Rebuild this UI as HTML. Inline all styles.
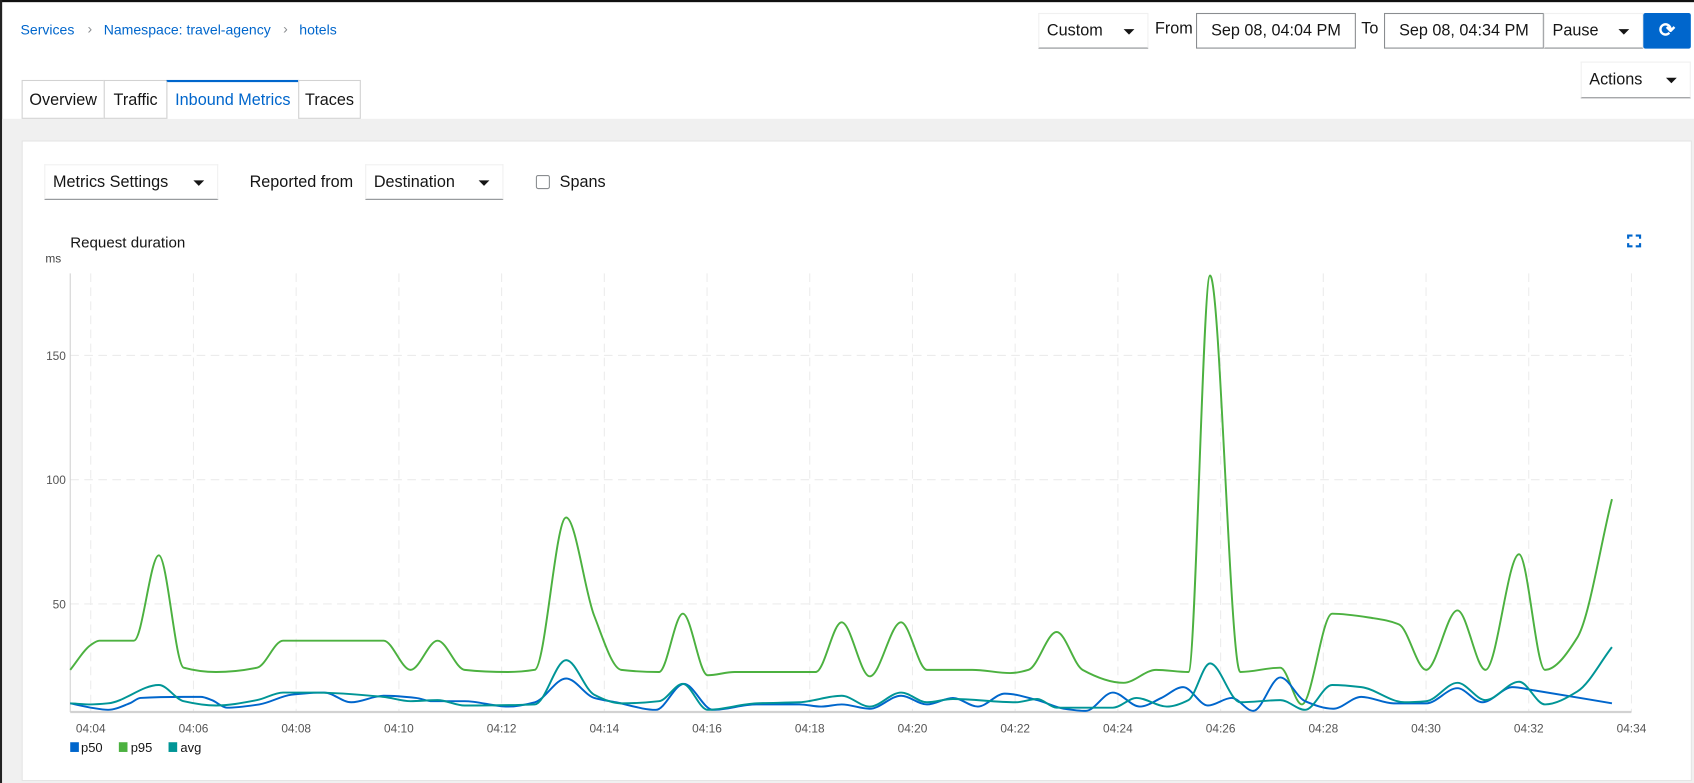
<!DOCTYPE html>
<html><head><meta charset="utf-8"><style>
html,body{margin:0;padding:0;width:1694px;height:783px;overflow:hidden;background:#fff;font-family:"Liberation Sans",sans-serif;}
#root{position:absolute;left:0;top:0;width:1568px;height:725px;transform:scale(1.0804);transform-origin:0 0;background:#fff;}
.a{position:absolute;}
.blue{color:#0066cc}
.dd{position:absolute;background:#fff;border:1px solid #f0f0f0;border-bottom:1px solid #8a8d90;box-sizing:border-box;font-size:15px;color:#151515;padding-left:7px;line-height:31px}
.dd:after{content:"";position:absolute;right:12px;top:14px;border-left:5px solid transparent;border-right:5px solid transparent;border-top:5px solid #151515}
.inp{position:absolute;border:1px solid #8a8d90;box-sizing:border-box;font-size:15px;color:#151515;text-align:center;line-height:31px;background:#fff}
.tab{position:absolute;top:74px;height:36px;border:1px solid #d2d2d2;box-sizing:border-box;font-size:15px;line-height:35px;text-align:center;color:#151515;background:#fff}
</style></head><body><div id="root">
<div class="a" style="left:0;top:0;width:1568px;height:2px;background:#111"></div>
<div class="a" style="left:0;top:0;width:2px;height:725px;background:#222"></div>
<div class="a" style="left:2px;top:110px;width:1566px;height:615px;background:#f0f0f0"></div>
<div class="a" style="left:20px;top:130px;width:1546px;height:593px;background:#fff;border:1px solid #e4e4e4;box-sizing:border-box"></div>

<div class="a blue" style="left:19px;top:20px;font-size:13px">Services</div>
<div class="a" style="left:81px;top:19px;font-size:13px;color:#8a8d90">›</div>
<div class="a blue" style="left:96px;top:20px;font-size:13px">Namespace: travel-agency</div>
<div class="a" style="left:262px;top:19px;font-size:13px;color:#8a8d90">›</div>
<div class="a blue" style="left:277px;top:20px;font-size:13px">hotels</div>

<div class="tab" style="left:20px;width:77px">Overview</div>
<div class="tab" style="left:96px;width:59px">Traffic</div>
<div class="tab" style="left:154px;width:123px;color:#0066cc;border-top:2px solid #0066cc;border-bottom:none;line-height:33px">Inbound Metrics</div>
<div class="tab" style="left:276px;width:58px">Traces</div>

<div class="dd" style="left:961px;top:12px;width:102px;height:33px">Custom</div>
<div class="a" style="left:1069px;top:18px;font-size:15px;color:#151515">From</div>
<div class="inp" style="left:1107px;top:12px;width:148px;height:33px">Sep 08, 04:04 PM</div>
<div class="a" style="left:1260px;top:18px;font-size:15px;color:#151515">To</div>
<div class="inp" style="left:1281px;top:12px;width:148px;height:33px">Sep 08, 04:34 PM</div>
<div class="dd" style="left:1429px;top:12px;width:92px;height:33px">Pause</div>
<div class="a" style="left:1521px;top:12px;width:44px;height:33px;background:#0066cc;border-radius:2px;color:#fff;font-size:18px;text-align:center;line-height:33px;font-weight:bold">⟳</div>
<div class="dd" style="left:1463px;top:57px;width:102px;height:34px;line-height:32px">Actions</div>

<div class="dd" style="left:41px;top:152px;width:161px;height:33px">Metrics Settings</div>
<div class="a" style="left:231px;top:160px;font-size:15px;color:#151515">Reported from</div>
<div class="dd" style="left:338px;top:152px;width:128px;height:33px">Destination</div>
<div class="a" style="left:496px;top:162px;width:11px;height:11px;border:1px solid #8a8d90;border-radius:2px"></div>
<div class="a" style="left:518px;top:160px;font-size:15px;color:#151515">Spans</div>

<svg class="a" style="left:0;top:0" width="1568" height="725" viewBox="0 0 1568 725" font-family="Liberation Sans, sans-serif">
<text x="65" y="229" font-size="14" fill="#151515">Request duration</text>
<text x="42" y="243" font-size="11" fill="#444">ms</text>
<g stroke="#0066cc" stroke-width="2" fill="none"><path d="M1507 221v-3h4M1514 218h4v3M1507 225v3h4M1518 225v3h-4"/></g>
<g stroke="#ececec" stroke-width="1" stroke-dasharray="8,5" id="grid"></g>
<line x1="65" y1="253" x2="65" y2="659" stroke="#d2d2d2"/>
<line x1="65" y1="659" x2="1510" y2="659" stroke="#d2d2d2" stroke-width="2"/>
<g font-size="11" fill="#555" text-anchor="end"><text x="61" y="333">150</text><text x="61" y="448">100</text><text x="61" y="563">50</text></g>
<g font-size="11" fill="#555" text-anchor="middle" id="xl"></g>
<g id="series" fill="none" stroke-width="1.8"></g>
<rect x="65" y="687" width="8" height="9" fill="#0066cc"/><text x="75" y="696" font-size="12" fill="#151515">p50</text>
<rect x="110" y="687" width="8" height="9" fill="#4cb140"/><text x="121" y="696" font-size="12" fill="#151515">p95</text>
<rect x="156" y="687" width="8" height="9" fill="#009596"/><text x="167" y="696" font-size="12" fill="#151515">avg</text>
</svg>
</div>
<script>
var NS="http://www.w3.org/2000/svg";
var g=document.getElementById('grid'),xl=document.getElementById('xl');
function el(p,t,a,txt){var e=document.createElementNS(NS,t);for(var k in a)e.setAttribute(k,a[k]);if(txt)e.textContent=txt;p.appendChild(e);}
[329,444,559].forEach(function(y){el(g,'line',{x1:65,y1:y,x2:1510,y2:y});});
for(var k=0;k<16;k++){var x=84+k*95.07;el(g,'line',{x1:x,y1:253,x2:x,y2:659});var m=4+2*k;el(xl,'text',{x:x,y:678},'04:'+(m<10?'0'+m:m));}
function path(p){var n=p.length,s=[],m=[];
for(var i=0;i<n-1;i++)s.push((p[i+1][1]-p[i][1])/(p[i+1][0]-p[i][0]));
m[0]=s[0];m[n-1]=s[n-2];
for(i=1;i<n-1;i++){if(s[i-1]*s[i]<=0)m[i]=0;else{var h0=p[i][0]-p[i-1][0],h1=p[i+1][0]-p[i][0];m[i]=3*(h0+h1)/((2*h1+h0)/s[i-1]+(h1+2*h0)/s[i]);}}
var d='M'+p[0][0]+' '+p[0][1];
for(i=0;i<n-1;i++){var h=(p[i+1][0]-p[i][0])/3;
d+=' C'+(p[i][0]+h).toFixed(1)+' '+(p[i][1]+m[i]*h).toFixed(1)+' '+(p[i+1][0]-h).toFixed(1)+' '+(p[i+1][1]-m[i+1]*h).toFixed(1)+' '+p[i+1][0]+' '+p[i+1][1];}
return d;}
var p95=[[65,620],[84,597],[92,593],[124,593],[147,514],[170,618],[200,622],[238,618],[262,593],[355,593],[380,620],[405,593],[430,620],[470,622],[495,620],[524,479],[550,570],[575,620],[610,622],[632,568],[655,625],[680,622],[755,622],[779,576],[805,626],[834,576],[858,620],[900,620],[935,623],[952,620],[978,585],[1002,620],[1040,632],[1070,620],[1100,622],[1120,255],[1148,622],[1185,618],[1205,652],[1233,568],[1270,572],[1295,578],[1320,620],[1349,565],[1375,620],[1406,513],[1430,620],[1460,590],[1492,462]];
var p50=[[65,651],[84,655],[100,657],[120,651],[130,646],[170,645],[186,645],[196,648],[210,655],[240,652],[270,643],[300,641],[325,650],[355,644],[385,646],[400,649],[430,649],[470,654],[495,650],[524,628],[550,646],[570,650],[607,657],[633,633],[660,657],[700,652],[740,652],[760,654],[779,652],[805,656],[834,644],[858,652],[882,646],[905,654],[930,642],[960,648],[985,656],[1005,658],[1030,641],[1055,654],[1075,646],[1095,636],[1118,653],[1140,646],[1160,658],[1185,627],[1208,649],[1234,656],[1260,645],[1290,651],[1320,651],[1349,637],[1372,650],[1400,636],[1420,639],[1492,651]];
var avg=[[65,651],[84,652],[100,651],[147,634],[170,649],[200,653],[238,648],[262,641],[290,641],[355,645],[380,649],[405,648],[430,653],[495,652],[524,611],[550,643],[575,651],[610,649],[632,633],[655,657],[700,651],[740,650],[779,644],[805,654],[834,641],[858,650],[882,647],[940,650],[960,647],[978,655],[1030,655],[1052,646],[1080,654],[1100,648],[1120,614],[1148,650],[1185,648],[1208,657],[1233,634],[1260,636],[1300,650],[1320,649],[1349,632],[1375,648],[1406,631],[1430,652],[1460,640],[1492,599]];
var s=document.getElementById('series');
el(s,'path',{d:path(p95),stroke:'#4cb140'});
el(s,'path',{d:path(p50),stroke:'#0066cc'});
el(s,'path',{d:path(avg),stroke:'#009596'});
</script>
</body></html>
